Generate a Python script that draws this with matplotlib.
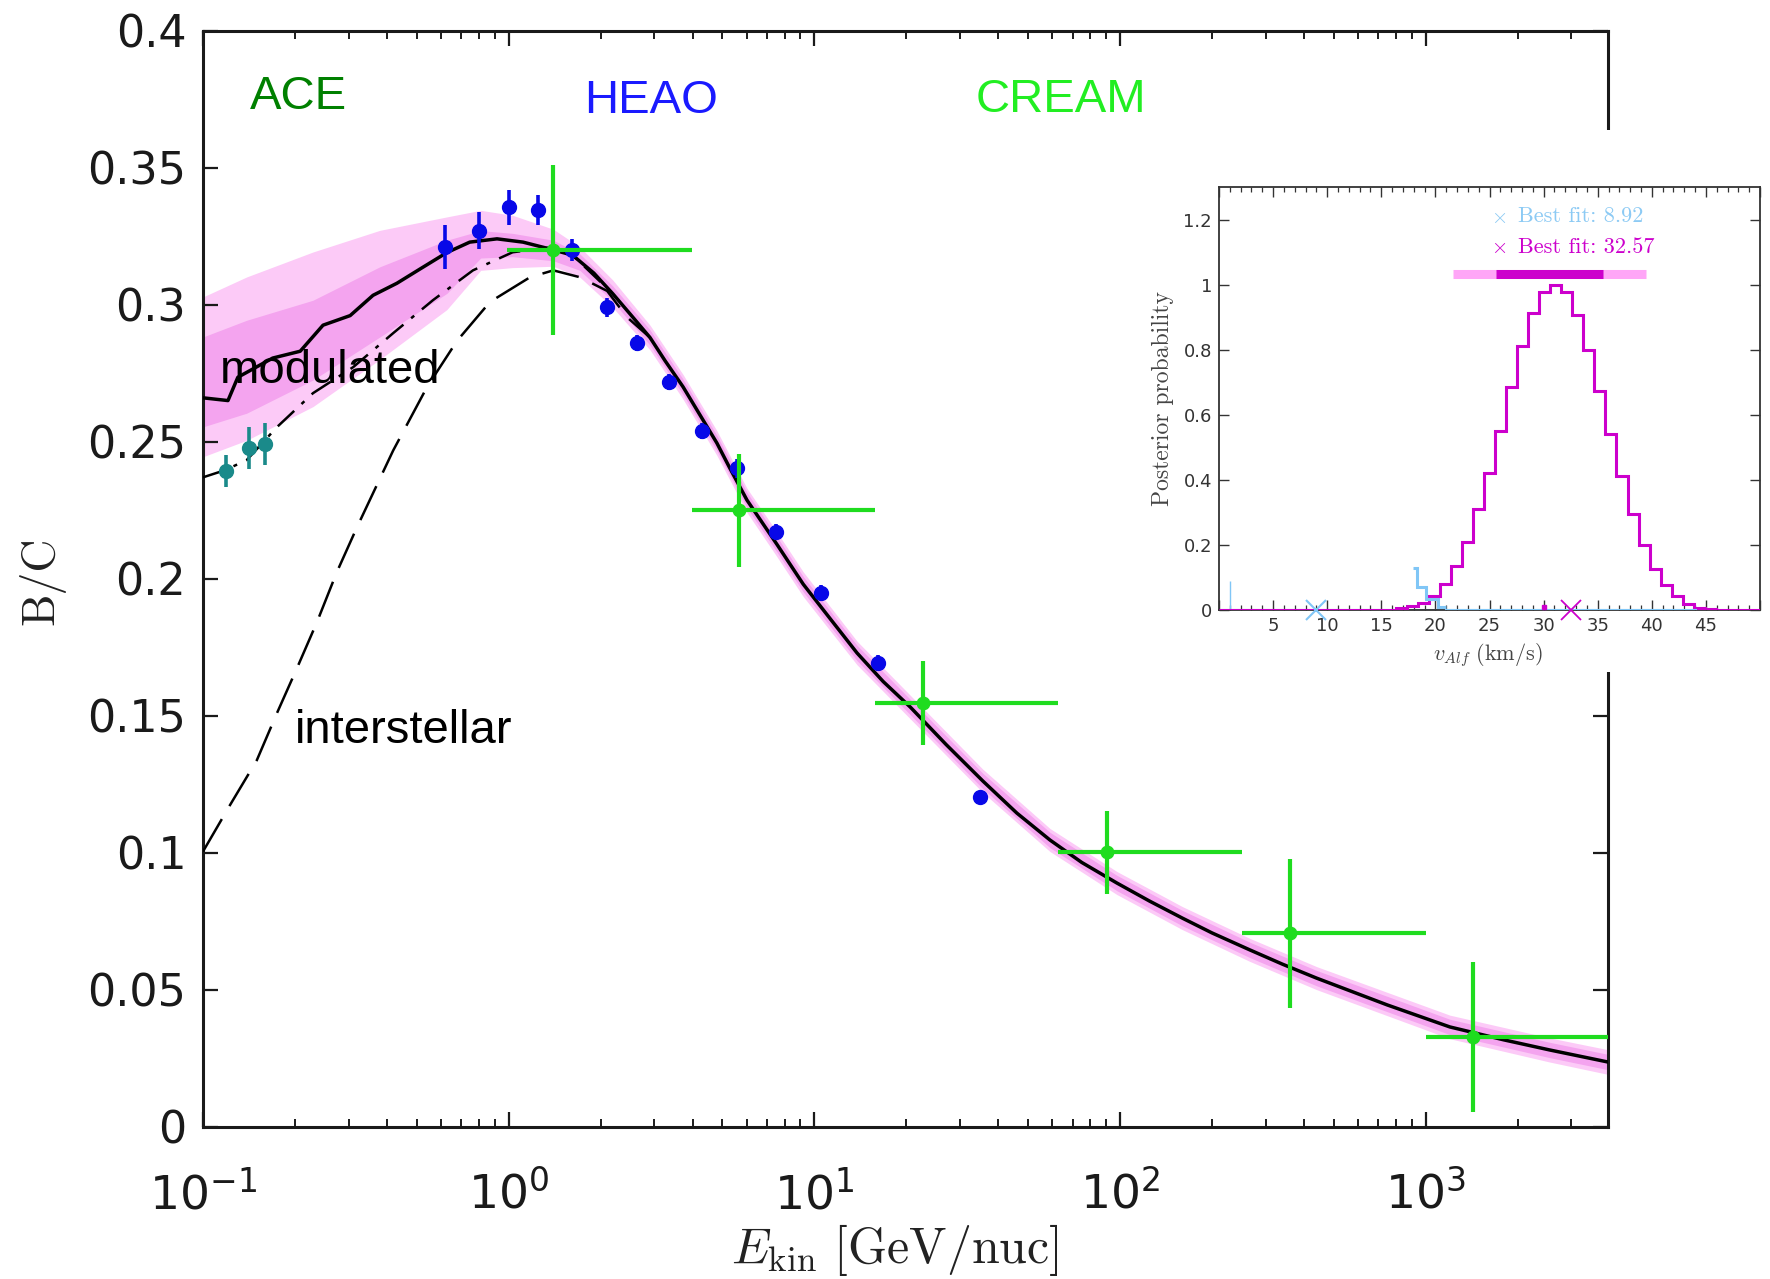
import numpy as np
import matplotlib
matplotlib.use("Agg")
import matplotlib.pyplot as plt
from matplotlib.patches import Rectangle
from matplotlib.ticker import (LogLocator, MultipleLocator, FuncFormatter,
                               NullFormatter)

plt.rcParams["mathtext.fontset"] = "cm"
plt.rcParams["font.family"] = "DejaVu Sans"

# ---- main panel: model curves (E in GeV/nuc, B/C) ----
mod_e = [0.1, 0.1207, 0.130, 0.169, 0.208, 0.247, 0.303, 0.360, 0.431, 0.513,
         0.628, 0.746, 0.916, 1.114, 1.397, 1.62, 1.9, 2.19, 2.5, 2.90, 3.25,
         3.72, 4.80, 5.3, 6.02, 7.55, 9.2, 11.2, 13.8, 16.8, 20.6, 27, 35.6,
         46, 59, 75, 97.7, 125, 160, 200, 266, 340, 440, 750, 1200, 1800,
         2546, 3950]
mod_bc = [0.266, 0.265, 0.2735, 0.2805, 0.283, 0.2925, 0.296, 0.3034, 0.3078,
          0.313, 0.319, 0.3228, 0.324, 0.3228, 0.320, 0.318, 0.3115, 0.304,
          0.2965, 0.288, 0.2795, 0.270, 0.2495, 0.2402, 0.2287, 0.2125, 0.198,
          0.1858, 0.1729, 0.1625, 0.1532, 0.1395, 0.1262, 0.1145, 0.1047,
          0.0965, 0.0890, 0.0824, 0.0762, 0.0708, 0.0646, 0.0594, 0.0543,
          0.0445, 0.0365, 0.0318, 0.0281, 0.0237]

dd_e = [0.1, 0.118, 0.139, 0.1745, 0.229, 0.310, 0.419, 0.565, 0.764, 1.03,
        1.40, 1.62, 2.19]
dd_bc = [0.237, 0.2396, 0.2433, 0.2553, 0.2677, 0.2772, 0.2896, 0.3016,
         0.3125, 0.3191, 0.321, 0.318, 0.304]

lis_e = [0.1, 0.1225, 0.150, 0.1746, 0.203, 0.236, 0.274, 0.319, 0.419, 0.541,
         0.678, 0.869, 1.175, 1.40, 1.71, 2.10, 2.44, 2.90]
lis_bc = [0.1005, 0.1174, 0.1338, 0.151, 0.1674, 0.1842, 0.2024, 0.2188,
          0.2468, 0.2700, 0.2868, 0.3010, 0.3100, 0.3125, 0.310, 0.305,
          0.2954, 0.288]

band_e = [0.1, 0.139, 0.229, 0.379, 0.628, 0.81, 1.03, 1.4, 1.71, 2.19, 2.9,
          3.72, 4.8, 6.02, 7.55, 9.2, 13.8, 20.6, 35.6, 59, 97.7, 160, 266,
          440, 1200, 2546, 3950]
outer_hi = [0.3028, 0.3101, 0.3192, 0.3271, 0.332, 0.3344, 0.3326, 0.3275,
            0.3210, 0.3090, 0.2925, 0.2745, 0.2540, 0.2330, 0.2170, 0.2025,
            0.1772, 0.1575, 0.1305, 0.1089, 0.0932, 0.0804, 0.0688, 0.0585,
            0.0408, 0.0325, 0.0282]
inner_hi = [0.2882, 0.2943, 0.3016, 0.3138, 0.3235, 0.3270, 0.3260, 0.3235,
            0.3185, 0.3068, 0.2908, 0.2728, 0.2523, 0.2315, 0.2153, 0.2008,
            0.1757, 0.1560, 0.1290, 0.1075, 0.0918, 0.0790, 0.0674, 0.0571,
            0.0393, 0.0309, 0.0265]
inner_lo = [0.2554, 0.2604, 0.2725, 0.2882, 0.3041, 0.3170, 0.3175, 0.3160,
            0.3125, 0.3012, 0.2852, 0.2672, 0.2467, 0.2259, 0.2097, 0.1952,
            0.1701, 0.1504, 0.1234, 0.1019, 0.0862, 0.0734, 0.0618, 0.0515,
            0.0337, 0.0253, 0.0209]
outer_lo = [0.2445, 0.2505, 0.2628, 0.2800, 0.2982, 0.3125, 0.3135, 0.3140,
            0.3100, 0.2990, 0.2835, 0.2655, 0.2450, 0.2242, 0.2080, 0.1935,
            0.1686, 0.1489, 0.1220, 0.1005, 0.0848, 0.0720, 0.0604, 0.0501,
            0.0322, 0.0237, 0.0192]

# ---- main panel: data ----
ace_e = [0.119, 0.141, 0.160]
ace_bc = [0.2393, 0.2478, 0.2492]
ace_err = [0.006, 0.0077, 0.0077]

heao_e = [0.62, 0.80, 1.00, 1.25, 1.61, 2.10, 2.63, 3.34, 4.29, 5.58, 7.48,
          10.5, 16.1, 34.8]
heao_bc = [0.321, 0.327, 0.3355, 0.3344, 0.3198, 0.299, 0.286, 0.2717, 0.2538,
           0.2403, 0.217, 0.1948, 0.1692, 0.1204]
heao_err = [0.0079, 0.0067, 0.0064, 0.0055, 0.004, 0.0035, 0.003, 0.003,
            0.003, 0.0035, 0.003, 0.003, 0.003, 0.002]

cream_e = [1.40, 5.68, 22.6, 90.4, 360, 1428]
cream_bc = [0.320, 0.2249, 0.1546, 0.1002, 0.0706, 0.0328]
cream_elo = [0.99, 3.97, 15.8, 62.5, 250, 1000]
cream_ehi = [3.97, 15.8, 62.5, 250, 1000, 3950]
cream_err = [0.031, 0.0205, 0.0153, 0.0151, 0.0273, 0.0273]

# ---- inset: posterior of v_Alf ----
post_vals = [0] * 16 + [0.005, 0.011, 0.022, 0.044, 0.08, 0.135, 0.21, 0.31,
                        0.422, 0.55, 0.685, 0.81, 0.913, 0.978, 1.0, 0.976,
                        0.908, 0.80, 0.673, 0.542, 0.412, 0.294, 0.20, 0.125,
                        0.078, 0.043, 0.019, 0.006, 0.002] + [0] * 4
alt_edges = [17.9, 18.3, 19.15, 20.2, 21.0]
alt_vals = [0.13, 0.07, 0.033, 0.008]
alt_spike = (1.0, 0.09)
best_fit = {"alt": 8.92, "main": 32.57}
ci68 = (25.6, 35.45)
ci95 = (21.6, 39.45)

W, H = 1770, 1279
fig = plt.figure(figsize=(W / 100, H / 100), dpi=100)


def fx(px):
    return px / W


def fy(py):
    return 1 - py / H


ax = fig.add_axes([fx(203), fy(1127), fx(1608) - fx(203), fy(30.5) - fy(1127)])
ax.set_xscale("log")
ax.set_xlim(0.1, 3950)
ax.set_ylim(0, 0.4)

ax.fill_between(band_e, outer_lo, outer_hi, color="#fccaf7", lw=0, zorder=1)
ax.fill_between(band_e, inner_lo, inner_hi, color="#f4a4ef", lw=0, zorder=2)
ax.plot(lis_e, lis_bc, color="black", lw=1.8, ls=(0, (15, 6)), zorder=3)
ax.plot(dd_e, dd_bc, color="black", lw=1.8, ls=(0, (9, 4, 1.6, 4)), zorder=3)
ax.plot(mod_e, mod_bc, color="black", lw=2.5, zorder=4)

ax.errorbar(ace_e, ace_bc, yerr=ace_err, fmt="o", color="#1a8a8a", ms=10,
            elinewidth=2.6, capsize=0, zorder=5)
ax.errorbar(heao_e, heao_bc, yerr=heao_err, fmt="o", color="#0808e8", ms=10,
            elinewidth=2.6, capsize=0, zorder=5)
cream_x = np.array(cream_e)
xerr = [cream_x - np.array(cream_elo), np.array(cream_ehi) - cream_x]
ax.errorbar(cream_e, cream_bc, xerr=xerr, yerr=cream_err, fmt="o",
            color="#1fdc1f", ms=9, elinewidth=3, capsize=0, zorder=6)

ax.xaxis.set_major_locator(LogLocator(base=10))
ax.xaxis.set_minor_locator(LogLocator(base=10, subs=range(2, 10)))
ax.xaxis.set_minor_formatter(NullFormatter())
ax.xaxis.set_major_formatter(FuncFormatter(
    lambda v, p: r"$\mathregular{10^{%d}}$" % round(np.log10(v))))
ax.yaxis.set_major_locator(MultipleLocator(0.05))
ax.yaxis.set_major_formatter(FuncFormatter(lambda v, p: "%g" % round(v, 2)))
ax.tick_params(which="both", direction="in", top=True, right=True,
               colors="#1a1a1a")
ax.tick_params(which="major", length=11, width=1.6, labelsize=32, pad=12)
ax.tick_params(axis="x", which="major", pad=32, labelsize=34)
ax.tick_params(which="minor", length=6, width=1.4)
for s in ax.spines.values():
    s.set_linewidth(2.2)
    s.set_color("#1a1a1a")

txt = dict(fontfamily="Liberation Sans", fontsize=34, va="baseline")
ax.text(0.1426, 0.3713, "ACE", color="#008000", **txt)
ax.text(1.763, 0.3698, "HEAO", color="#1a1aff", **txt)
ax.text(33.8, 0.3702, "CREAM", color="#22ee22", **txt)
ax.text(0.1137, 0.2713, "modulated", color="black", **txt)
ax.text(0.200, 0.140, "interstellar", color="black", **txt)

fig.text(fx(895), fy(1250), r"$E_{\rm kin}\ \mathrm{[GeV/nuc]}$",
         fontsize=36, ha="center", va="center", color="#222222")
fig.text(fx(42), fy(581), "B/C", fontfamily="cmr10", fontsize=33,
         rotation=90, ha="center", va="center", color="#222222")

# white panel that the inset sits on
fig.add_artist(Rectangle((fx(1140), fy(672)), 1 - fx(1140), fy(130) - fy(672),
                         transform=fig.transFigure, facecolor="white",
                         edgecolor="none", zorder=2))

axin = fig.add_axes([fx(1219), fy(610), fx(1760) - fx(1219), fy(187) - fy(610)])
axin.set_zorder(3)
axin.set_xlim(0, 50)
axin.set_ylim(0, 1.3)
edges = np.linspace(0, 50, len(post_vals) + 1)
light_blue = "#80c6f6"
magenta = "#cc00cc"
axin.plot([0, 44], [0, 0], color=light_blue, lw=2.2, zorder=2)
axin.vlines(alt_spike[0], 0, alt_spike[1], color=light_blue, lw=1.0, zorder=2)
axin.stairs(post_vals, edges, color=magenta, lw=2.2, baseline=None, zorder=3)
axin.stairs(alt_vals, alt_edges, color=light_blue, lw=2.2, baseline=None,
            zorder=4)
axin.plot([alt_edges[-1], 44], [0, 0], color=light_blue, lw=2.2, zorder=4)
axin.plot([ci95[0], ci95[1]], [1.032, 1.032], color="#ffa6f7", lw=6.5,
          solid_capstyle="butt", zorder=3)
axin.plot([ci68[0], ci68[1]], [1.032, 1.032], color=magenta, lw=6.5,
          solid_capstyle="butt", zorder=4)
axin.plot(best_fit["alt"], 0, "x", color=light_blue, ms=14, mew=1.5,
          clip_on=False, zorder=5)
axin.plot(best_fit["main"], 0, "x", color=magenta, ms=14, mew=1.3,
          clip_on=False, zorder=5)
axin.plot(30.0, 0.008, "s", color=magenta, ms=2.5, zorder=5)

axin.text(25.85, 1.209, r"$\times$", color="#8ccaf4", fontsize=15,
          ha="center", va="center")
axin.text(27.6, 1.209, "Best fit: %.2f" % best_fit["alt"], color="#8ccaf4",
          fontfamily="cmr10", fontsize=16, ha="left", va="center")
axin.text(25.85, 1.116, r"$\times$", color=magenta, fontsize=15,
          ha="center", va="center")
axin.text(27.6, 1.116, "Best fit: %.2f" % best_fit["main"], color=magenta,
          fontfamily="cmr10", fontsize=16, ha="left", va="center")

axin.xaxis.set_major_locator(MultipleLocator(5))
axin.xaxis.set_minor_locator(MultipleLocator(1))
axin.yaxis.set_major_locator(MultipleLocator(0.2))
axin.xaxis.set_major_formatter(FuncFormatter(
    lambda v, p: "%d" % v if 0 < v < 50 else ""))
axin.yaxis.set_major_formatter(FuncFormatter(
    lambda v, p: "%g" % round(v, 1) if v < 1.25 else ""))
axin.tick_params(which="both", direction="in", top=True, right=True,
                 colors="#333333", labelsize=13)
axin.tick_params(which="major", length=7, width=1.0, pad=5)
axin.tick_params(which="minor", length=3.5, width=0.9)
for s in axin.spines.values():
    s.set_linewidth(1.3)
    s.set_color("#333333")

fig.text(fx(1163), fy(399), "Posterior probability", fontfamily="cmr10",
         fontsize=17, rotation=90, ha="center", va="center", color="#444444")
fig.text(fx(1488), fy(655), r"$v_{Alf}\ \mathrm{(km/s)}$", fontsize=16,
         ha="center", va="center", color="#444444")

fig.savefig("out.png", dpi=100)
